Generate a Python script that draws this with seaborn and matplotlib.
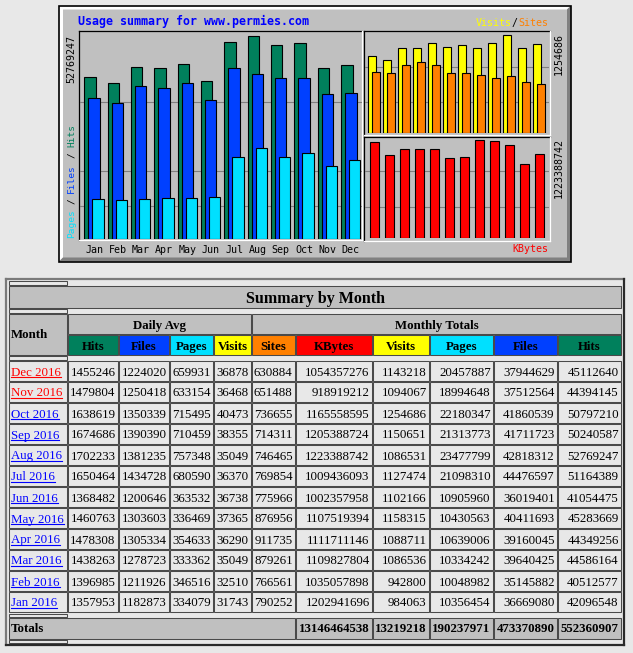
import numpy as np
import pandas as pd
import matplotlib
matplotlib.use("Agg")
import matplotlib.pyplot as plt
import seaborn as sns
from matplotlib.patches import Rectangle, Polygon

# ---------------- data (Jan..Dec 2016) ----------------
months = ['Jan', 'Feb', 'Mar', 'Apr', 'May', 'Jun', 'Jul', 'Aug', 'Sep', 'Oct', 'Nov', 'Dec']
year = 2016
site_name = "www.permies.com"

hits = [42096548, 40512577, 44586164, 44349256, 45283669, 41054475,
        51164389, 52769247, 50240587, 50797210, 44394145, 45112640]
files = [36669080, 35145882, 39640425, 39160045, 40411693, 36019401,
         44476597, 42818312, 41711723, 41860539, 37512564, 37944629]
pages = [10356454, 10048982, 10334242, 10639006, 10430563, 10905960,
         21098310, 23477799, 21313773, 22180347, 18994648, 20457887]
visits = [984063, 942800, 1086536, 1088711, 1158315, 1102166,
          1127474, 1086531, 1150651, 1254686, 1094067, 1143218]
sites = [790252, 766561, 879261, 911735, 876956, 775966,
         769854, 746465, 714311, 736655, 651488, 630884]
kbytes = [1202941696, 1035057898, 1109827804, 1111711146, 1107519394, 1002357958,
          1009436093, 1223388742, 1205388724, 1165558595, 918919212, 1054357276]
daily_hits = [1357953, 1396985, 1438263, 1478308, 1460763, 1368482,
              1650464, 1702233, 1674686, 1638619, 1479804, 1455246]
daily_files = [1182873, 1211926, 1278723, 1305334, 1303603, 1200646,
               1434728, 1381235, 1390390, 1350339, 1250418, 1224020]
daily_pages = [334079, 346516, 333362, 354633, 336469, 363532,
               680590, 757348, 710459, 715495, 633154, 659931]
daily_visits = [31743, 32510, 35049, 36290, 37365, 36738,
                36370, 35049, 38355, 40473, 36468, 36878]
totals_kbytes = 13146464538
totals_visits = 13219218
totals_pages = 190237971
totals_files = 473370890
totals_hits = 552360907
visited_links = ['Dec', 'Nov']

# ---------------- style ----------------
HIT_C, FILE_C, PAGE_C = '#00805c', '#0040ff', '#00e0ff'
VISIT_C, SITE_C, KB_C = '#ffff00', '#ff8000', '#ff0000'
GREY, DKGREY, PAGE_BG = '#c0c0c0', '#808080', '#e8e8e8'
MONO = 'DejaVu Sans Mono'
SERIF = 'Liberation Serif'

W, H = 633, 653
fig = plt.figure(figsize=(W / 100, H / 100), dpi=100, facecolor=PAGE_BG)
bg = fig.add_axes([0, 0, 1, 1])
bg.set_xlim(0, W)
bg.set_ylim(H, 0)
bg.axis('off')


def px_axes(x0, y0, x1, y1):
    ax = fig.add_axes([x0 / W, 1 - y1 / H, (x1 - x0) / W, (y1 - y0) / H])
    ax.set_facecolor('none')
    for s in ax.spines.values():
        s.set_visible(False)
    return ax


def bars(ax, pos, vals, color, width):
    df = pd.DataFrame({'pos': pos, 'val': vals})
    sns.barplot(data=df, x='pos', y='val', native_scale=True, orient='x',
                width=width, color=color, saturation=1, edgecolor='black',
                linewidth=0.8, errorbar=None, ax=ax, zorder=2)


# ---------------- graph frame ----------------
gx0, gy0, gx1, gy1 = 59, 5.5, 571, 261.5
bg.add_patch(Rectangle((gx0, gy0), gx1 - gx0, gy1 - gy0, fc=GREY, ec='none'))
b = 4
bg.add_patch(Polygon([(gx0, gy0), (gx1, gy0), (gx1 - b, gy0 + b), (gx0 + b, gy0 + b),
                      (gx0 + b, gy1 - b), (gx0, gy1)], closed=True, fc='white', ec='none'))
bg.add_patch(Polygon([(gx1, gy0), (gx1, gy1), (gx0, gy1), (gx0 + b, gy1 - b),
                      (gx1 - b, gy1 - b), (gx1 - b, gy0 + b)], closed=True, fc=DKGREY, ec='none'))
bg.add_patch(Rectangle((gx0, gy0), gx1 - gx0, gy1 - gy0, fc='none', ec='black', lw=1.2))


def panel_box(x0, y0, x1, y1):
    bg.plot([x0, x1], [y0, y0], color='black', lw=0.9)
    bg.plot([x0, x0], [y0, y1], color='black', lw=0.9)
    bg.plot([x0, x1], [y1, y1], color='white', lw=0.9)
    bg.plot([x1, x1], [y0, y1], color='white', lw=0.9)


panel_box(79, 31, 362, 240)
panel_box(364, 31, 550, 135)
panel_box(364, 136.5, 550, 240.5)

idx = np.arange(12)

# ---- left panel: hits / files / pages ----
axL = px_axes(80, 32, 361.5, 238.5)
mx = max(hits)
for f in [0.160, 0.333, 0.673]:
    axL.axhline(f * mx, color=DKGREY, lw=0.8, zorder=0.5)
bars(axL, idx - 0.171, hits, HIT_C, 0.49)
bars(axL, idx + 0.0, files, FILE_C, 0.49)
bars(axL, idx + 0.171, pages, PAGE_C, 0.49)
axL.set_xlim(-0.602, 11.459)
axL.set_ylim(0, mx * 206.5 / 202.8)
axL.set_xticks(idx)
axL.set_xticklabels(months, family=MONO, fontsize=7.2, color='black')
axL.tick_params(axis='x', length=0, pad=5)
axL.set_yticks([])
axL.set_xlabel('')
axL.set_ylabel('')

# ---- upper right: visits / sites ----
axU = px_axes(365, 32, 549, 133.3)
mv = max(visits)
for f in [0.322, 0.68]:
    axU.axhline(f * mv, color=DKGREY, lw=0.8, zorder=0.5)
bars(axU, idx - 0.133, visits, VISIT_C, 0.533)
bars(axU, idx + 0.133, sites, SITE_C, 0.533)
axU.set_xlim(-0.62, 11.647)
axU.set_ylim(0, mv * 101.3 / 98)
axU.set_xticks([])
axU.set_yticks([])
axU.set_xlabel('')
axU.set_ylabel('')

# ---- lower right: kbytes ----
axK = px_axes(365, 137.5, 549, 238.3)
mk = max(kbytes)
for f in [0.321, 0.685]:
    axK.axhline(f * mk, color=DKGREY, lw=0.8, zorder=0.5)
bars(axK, idx + 0.0, kbytes, KB_C, 0.633)
axK.set_xlim(-0.62, 11.647)
axK.set_ylim(0, mk * 100.8 / 98.3)
axK.set_xticks([])
axK.set_yticks([])
axK.set_xlabel('')
axK.set_ylabel('')

# ---- graph texts ----
bg.text(78, 24.5, f"Usage summary for {site_name}", family=MONO, fontweight='bold',
        fontsize=8.4, color='#0000ff', ha='left', va='baseline')

pitch_v = 0.602 * 6.8 * 100 / 72
segs = [("Pages", PAGE_C, 0), ("/", 'black', 6), ("Files", FILE_C, 8),
        ("/", 'black', 14), ("Hits", HIT_C, 16)]
for s, c, k in segs:
    bg.text(71.5, 238 - k * pitch_v, s, family=MONO, fontsize=6.8, color=c,
            rotation=90, rotation_mode='anchor', ha='left', va='center')

bg.text(71.5, 35, str(max(hits)), family=MONO, fontsize=7.2, color='black',
        rotation=90, rotation_mode='anchor', ha='right', va='center')
bg.text(559, 33, str(max(visits)), family=MONO, fontsize=7.2, color='black',
        rotation=90, rotation_mode='anchor', ha='right', va='center')
bg.text(559, 138, str(max(kbytes)), family=MONO, fontsize=7.2, color='black',
        rotation=90, rotation_mode='anchor', ha='right', va='center')

pitch_h = 0.602 * 7.2 * 100 / 72
bg.text(548, 26, "Sites", family=MONO, fontsize=7.2, color=SITE_C, ha='right', va='baseline')
bg.text(548 - 5 * pitch_h, 26, "/", family=MONO, fontsize=7.2, color='black', ha='right', va='baseline')
bg.text(548 - 6 * pitch_h, 26, "Visits", family=MONO, fontsize=7.2, color=VISIT_C, ha='right', va='baseline')
bg.text(548, 252, "KBytes", family=MONO, fontsize=7.2, color=KB_C, ha='right', va='baseline')

# ---------------- table ----------------
FS = 9.3
EDGE = '#4a4a4a'


def cell(x0, y0, x1, y1, fc=PAGE_BG):
    bg.add_patch(Rectangle((x0, y0), x1 - x0, y1 - y0, fc=fc, ec=EDGE, lw=0.75))


# outer table border
tx0, ty0, tx1, ty1 = 5.5, 278.5, 623.5, 644.5
bg.plot([tx0, tx1], [ty0, ty0], color='#7a7a7a', lw=1.6)
bg.plot([tx0, tx0], [ty0, ty1], color='#7a7a7a', lw=1.6)
bg.plot([tx0, tx1], [ty1, ty1], color='#2a2a2a', lw=1.6)
bg.plot([tx1, tx1], [ty0, ty1], color='#2a2a2a', lw=1.6)

MX0, MX1 = 9, 67
cols = [(68, 118), (119, 169), (170, 213), (214, 251), (252, 295),
        (296, 372), (373, 429), (430, 493), (494, 557), (558, 621)]
col_names = ['Hits', 'Files', 'Pages', 'Visits', 'Sites', 'KBytes', 'Visits', 'Pages', 'Files', 'Hits']
col_colors = [HIT_C, FILE_C, PAGE_C, VISIT_C, SITE_C, KB_C, VISIT_C, PAGE_C, FILE_C, HIT_C]

# spacers
for y0, y1 in [(281, 285), (309, 312.5), (356, 359.5), (613.5, 617), (640, 643)]:
    cell(MX0, y0, MX1, y1)

# title
cell(MX0, 286, 621, 308, GREY)
bg.text((MX0 + 621) / 2, 303, "Summary by Month", family=SERIF, fontweight='bold',
        fontsize=11.5, ha='center', va='baseline')

# header rows
cell(MX0, 314, MX1, 355, GREY)
bg.text(MX0 + 2, 338, "Month", family=SERIF, fontweight='bold', fontsize=FS, ha='left', va='baseline')
cell(68, 314, 251, 334, GREY)
bg.text((68 + 251) / 2, 328.7, "Daily Avg", family=SERIF, fontweight='bold', fontsize=FS,
        ha='center', va='baseline')
cell(252, 314, 621, 334, GREY)
bg.text((252 + 621) / 2, 328.7, "Monthly Totals", family=SERIF, fontweight='bold', fontsize=FS,
        ha='center', va='baseline')
for (x0, x1), nm, c in zip(cols, col_names, col_colors):
    cell(x0, 335, x1, 355, c)
    bg.text((x0 + x1) / 2, 349.7, nm, family=SERIF, fontweight='bold', fontsize=FS,
            ha='center', va='baseline', color='black')

# data rows (newest first)
renderer = fig.canvas.get_renderer()
for r, m in enumerate(range(11, -1, -1)):
    y0 = 361 + 21 * r
    y1 = y0 + 20
    base = y0 + 14.5
    cell(MX0, y0, MX1, y1)
    lc = '#ff0000' if months[m] in visited_links else '#0000ff'
    t = bg.text(MX0 + 2, base, f"{months[m]} {year}", family=SERIF, fontsize=FS,
                color=lc, ha='left', va='baseline')
    wpx = t.get_window_extent(renderer).width
    bg.plot([MX0 + 2, MX0 + 2 + wpx], [base + 1.3, base + 1.3], color=lc, lw=0.8)
    vals = [daily_hits[m], daily_files[m], daily_pages[m], daily_visits[m], sites[m],
            kbytes[m], visits[m], pages[m], files[m], hits[m]]
    for (x0, x1), v in zip(cols, vals):
        cell(x0, y0, x1, y1)
        bg.text(x1 - 2.3, base, str(v), family=SERIF, fontsize=FS, ha='right', va='baseline')

# totals row
cell(MX0, 618, 295, 638.5, GREY)
bg.text(MX0 + 2, 632.5, "Totals", family=SERIF, fontweight='bold', fontsize=FS, ha='left', va='baseline')
for (x0, x1), v in zip(cols[5:], [totals_kbytes, totals_visits, totals_pages, totals_files, totals_hits]):
    cell(x0, 618, x1, 638.5, GREY)
    bg.text(x1 - 2.3, 632.5, str(v), family=SERIF, fontweight='bold', fontsize=FS,
            ha='right', va='baseline')

fig.savefig("out.png", dpi=100, facecolor=PAGE_BG)
